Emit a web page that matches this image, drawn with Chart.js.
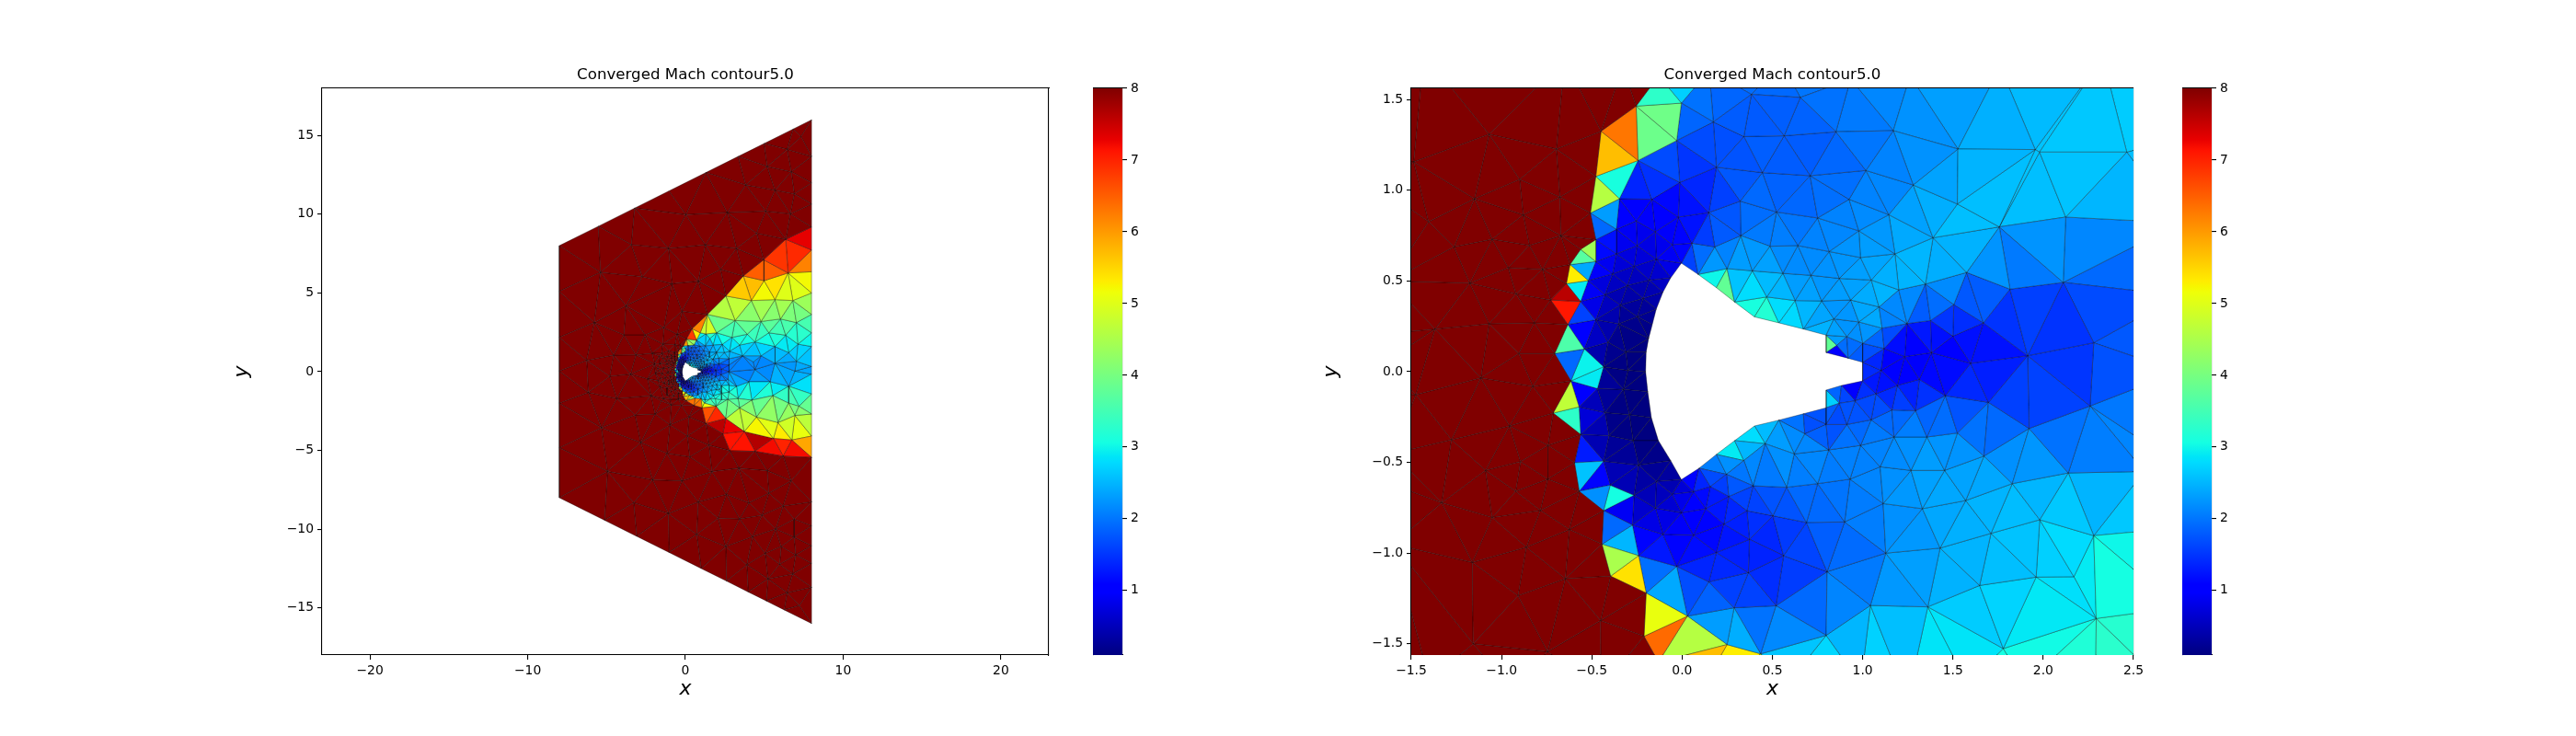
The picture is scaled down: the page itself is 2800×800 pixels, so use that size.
<!DOCTYPE html>
<html>
<head>
<meta charset="utf-8">
<script src="https://cdn.jsdelivr.net/npm/chart.js@4"></script>
<style>
  body { margin: 0; background: #fff; width: 2800px; height: 800px; overflow: hidden; }
  .box { position: absolute; top: 60px; height: 710px; }
</style>
</head>
<body>
<div class="box" style="left:250px;width:900px"><canvas id="fullMesh"></canvas></div>
<div class="box" style="left:1188px;width:60px"><canvas id="fullBar"></canvas></div>
<div class="box" style="left:1434px;width:900px"><canvas id="noseMesh"></canvas></div>
<div class="box" style="left:2372px;width:60px"><canvas id="noseBar"></canvas></div>
<script>
// Chart text
const chartTitle = 'Converged Mach contour5.0';
const xLabel = 'x';
const yLabel = 'y';

// Tick values
const fullXTicks = [-20, -10, 0, 10, 20];
const fullYTicks = [-15, -10, -5, 0, 5, 10, 15];
const noseXTicks = [-1.5, -1, -0.5, 0, 0.5, 1, 1.5, 2, 2.5];
const noseYTicks = [-1.5, -1, -0.5, 0, 0.5, 1, 1.5];
const barTicks = [1, 2, 3, 4, 5, 6, 7, 8];
const machMin = 0.1;
const machMax = 8;

// Mesh nodes ahead of the shock, all at the top of the colour scale
const farX = [
  -1.069,-0.697,-1.486,-0.900,-1.150,-0.677,-0.880,-1.404,-1.052,-0.672,
  -1.263,-0.846,-0.963,-0.773,-1.176,-0.920,-1.069,-0.819,-1.368,-0.905,
  -1.115,-0.827,-1.475,-0.956,-1.277,-0.743,-0.895,-1.089,-0.745,-0.922,
  -1.331,-0.785,-1.052,-0.625,-0.863,-1.162,-0.647,-0.909,-0.452,-1.157,
  -0.745,-0.65,-0.33,-1.62,-1.65,-1.6,-1.6,-1.65,-0.95,-0.45,
  -1.4,7.33,6.45,5.19,6.71,3.83,5.68,6.9,2.66,5.09,
  6.65,0.03,-3.42,-1.08,1.26,3.24,4.51,-5.38,-2.74,-0.85,
  0.81,2.23,-3.77,-0.22,-5.77,-3.9,-2.56,-1.37,-0.52,-4.55,
  -3.14,-2.11,-1.43,-6.26,-3.48,-1.95,-1.75,-1.9,-8,-8,
  -8,-8,-8,-8,-8,8,8,8,8,8,
  8,8,8,8,8,-5.52,-3.22,-1.04,1.3,3.34,
  4.99,6.84,-5.13,-3.09,-1.04,1,2.6,3.98,5.13,6.26,
  -4.8,-2.4,-1.72,-6.16,-4.35,-2.17,-1.53,-0.9,-3.18,-1.92,
  -0.26,-5.33,-0.98,0.22,-2.83,0.13,1.49,-1.18,0.28,-4.94,
  -2.07,-0.22,3.38,5.19,1.68,6.71,2.6,4.02,5.29,-3.28,
  0.81,-1.08,6.2,3.44,4.86,2.07,6.9,5.72,0.71,4.25,
  6.9,2.56,6.07,5.05,7.0,3.89,5.97,5.23,6.81,6.45,7.23
];
const farY = [
  1.308,1.227,1.156,1.060,0.953,0.962,0.864,0.826,0.730,0.750,
  0.688,0.696,0.573,0.564,0.488,0.429,0.264,0.269,0.235,0.100,
  -0.034,-0.081,-0.127,-0.299,-0.375,-0.406,-0.495,-0.544,-0.592,-0.659,
  -0.722,-0.764,-0.803,-0.870,-0.967,-1.051,-1.141,-1.234,-1.372,-1.499,
  -1.543,1.72,1.68,0.5,0.05,-0.45,-0.95,1.0,-1.75,-1.75,
  -1.7,14.93,14.12,13.03,12.7,11.86,11.53,11.3,10.11,10.2,
  10.03,9.97,8.06,7.83,8.06,7.83,8.8,6.31,6.04,5.59,
  5.75,6.5,4.19,3.84,3.12,2.34,2.34,2.80,2.38,1.05,
  1.07,1.17,1.75,0.72,-0.15,0.5,0.2,-0.1,8,5.1,
  2.18,0.04,-2,-4.83,-8,16,13.67,12,10.65,-8.27,
  -9.79,-11.06,-12.17,-13.69,-16,9.24,10.39,11.48,12.65,13.67,
  14.495,15.42,-9.435,-10.455,-11.48,-12.5,-13.3,-13.99,-14.565,-15.13,
  -0.29,-0.45,-0.58,-1.32,-1.71,-1.52,-1.85,-2.1,-2.75,-2.69,
  -2.14,-3.56,-3.37,-2.88,-4.5,-4.09,-4.67,-5.18,-5.41,-6.33,
  -6.87,-6.93,-6.13,-6.29,-6.35,-6.93,-7.79,-8.33,-7.71,-8.33,
  -8.27,-9.01,-8.53,-9.35,-9.11,-9.3,-9.36,-9.99,-10.34,-10.48,
  -10.51,-11.1,-11.1,-11.54,-11.64,-12.27,-12.23,-13.16,-12.85,-14.04,-14.86
];

// Nodes along the shock front, same value as the far field
const shockX = [
  -0.2545,-0.449,-0.478,-0.508,-0.478,-0.562,-0.621,-0.641,-0.728,-0.633,
  -0.706,-0.616,-0.714,-0.562,-0.596,-0.570,-0.435,-0.444,-0.396,-0.199,
  -0.211,-0.131,-0.13,0.07,0.42,1.39,2.56,3.67,4.96,6.36,
  8,0.05,0.55,1.06,1.3,2.37,2.81,4.41,6.2,8
];
const shockY = [
  1.4635,1.325,1.076,0.874,0.728,0.674,0.590,0.485,0.395,0.260,
  0.100,-0.051,-0.228,-0.346,-0.502,-0.659,-0.766,-0.951,-1.127,-1.220,
  -1.458,-1.60,1.63,2.08,2.73,3.64,4.81,6.08,7.11,8.41,
  9.19,-1.85,-2.15,-2.3,-3.31,-3.95,-5.02,-5.06,-5.37,-5.45
];

// Nodes behind the shock
const flowX = [
  -0.004,-0.244,-0.030,0.173,0.384,0.342,0.190,-0.013,0.444,-0.168,
  -0.347,-0.254,-0.364,-0.021,0.148,0.322,-0.148,0.055,0.325,0.486,
  -0.249,-0.364,-0.478,-0.143,-0.055,-0.266,-0.385,-0.520,0.181,0.249,
  0.389,0.469,-0.182,-0.303,-0.427,-0.562,-0.216,-0.342,-0.478,-0.248,
  -0.351,-0.410,-0.312,-0.542,-0.435,-0.300,-0.469,-0.325,-0.571,-0.427,
  -0.292,-0.405,-0.271,-0.435,-0.241,-0.398,-0.266,-0.143,-0.055,-0.148,
  -0.275,-0.004,0.063,0.156,0.131,0.258,0.246,0.342,0.460,0.393,
  0.359,0.232,0.373,0.063,-0.106,-0.241,-0.030,0.190,0.367,0.148,
  0.029,0.288,0.249,0.435,
  0.655,0.565,0.852,1.170,0.709,1.018,1.528,1.956,2.463,1.280,
  1.525,0.925,1.145,0.523,0.751,1.757,2.125,0.979,1.390,0.641,
  0.815,1.179,0.988,1.576,0.558,0.714,0.871,1.048,1.348,1.200,
  1.816,2.111,0.626,0.773,0.934,1.091,1.505,1.376,1.246,1.669,
  0.841,0.979,1.108,0.913,1.001,1.119,1.500,1.233,1.381,1.598,
  1.914,2.280,1.103,0.857,
  0.15,0.55,0.933,1.263,1.762,2.33,
  1.192,1.314,1.458,1.697,1.922,2.260,2.139,0.959,1.074,0.871,
  1.162,1.293,1.047,0.913,0.798,0.680,1.174,1.356,1.525,1.672,
  0.989,0.812,0.621,1.097,1.268,1.454,1.829,0.930,0.751,0.579,
  1.571,1.114,1.331,1.981,2.280,0.689,0.900,1.711,1.429,0.503,
  1.128,0.562,0.803,1.961,1.648,1.043,1.361,0.52,2.294,0.798,
  1.779,
  6.51,8,8,4.99,4.18,5.68,6.81,8,8,3.15,
  4.8,6.03,7.04,8,1.98,3.92,5.29,6.36,8,1.3,
  2.95,4.41,5.68,7.14,1.98,3.44,4.8,6.55,8,3.63,
  2.76,4.31,5.68,7.04,0.94,0.7,1.55,2.8,
  2.75,2.75,2.76,2.7,2.75,2.7,
  3.44,4.51,5.87,6.94,8,2.17,3.34,4.21,5.54,6.55,
  7.2,8,2.56,3.24,4.02,5.38,6.55,8,4.41,6.94,
  2.56,3.73,5.58,6.75,8,1.95,1.2,0.6,0.99,1.25,
  1.58,1.9,2.29
];
const flowY = [
  1.480,1.164,1.274,1.376,1.528,1.296,1.127,1.043,1.097,0.950,
  0.953,0.831,0.784,0.852,0.877,0.940,0.771,0.708,0.750,0.691,
  0.695,0.649,0.607,0.620,0.700,0.581,0.539,0.502,0.688,0.568,
  0.556,0.412,0.505,0.475,0.424,0.387,0.404,0.368,0.286,0.303,
  0.264,0.162,0.108,0.125,0.027,0.007,-0.093,-0.098,-0.194,-0.225,
  -0.237,-0.352,-0.380,-0.493,-0.515,-0.625,-0.681,-0.605,-0.676,-0.752,
  -0.845,-0.777,-0.662,-0.634,-0.755,-0.688,-0.566,-0.490,-0.397,-0.629,
  -0.766,-0.840,-0.924,-0.901,-0.896,-1.014,-1.073,-0.997,-1.107,-1.158,
  -1.347,-1.301,-1.504,-1.555,
  1.511,1.300,1.322,1.328,1.080,1.109,1.227,1.224,1.210,1.029,
  0.924,0.950,0.865,0.880,0.847,0.798,0.852,0.776,0.738,0.695,
  0.662,0.649,0.629,0.547,0.542,0.531,0.514,0.505,0.483,0.451,
  0.455,0.492,0.392,0.390,0.395,0.357,0.370,0.282,0.265,0.269,
  0.291,0.274,0.240,0.193,0.156,0.128,0.196,0.083,0.105,0.046,
  0.088,0.159,0.007,0.145,
  1.66,1.7,1.612,1.63,1.68,1.73,
  -0.076,-0.042,-0.132,-0.169,-0.313,-0.189,-0.558,-0.161,-0.122,-0.174,
  -0.211,-0.215,-0.265,-0.291,-0.291,-0.343,-0.360,-0.360,-0.338,-0.465,
  -0.406,-0.431,-0.453,-0.524,-0.544,-0.544,-0.617,-0.592,-0.617,-0.637,
  -0.710,-0.727,-0.755,-0.816,-0.904,-0.831,-0.828,-0.891,-0.972,-0.794,
  -1.000,-1.014,-1.102,-1.132,-1.178,-1.288,-1.296,-1.29,-1.360,-1.453,
  -1.526,
  6.27,7.73,6.35,5.78,4.52,4.58,4.52,5,3.64,3.25,
  3.19,3.35,3.12,2.47,2.47,2.38,2.47,2.32,1.6,2.4,
  2.18,1.89,1.6,1.75,1.21,1.69,1.01,1.21,0.33,1.01,
  0.82,0.62,0.53,0.66,2.47,2.0,2.1,1.3,
  0.42,0.0,-0.86,-0.48,-1.3,-1.75,
  -2.3,-2.88,-3.23,-2.78,-2.69,-1.13,-1.71,-1.81,-1.52,-2.0,
  -2.2,-1.42,-0.55,-0.93,-0.64,-0.64,-0.93,-0.16,0.14,0.04,
  -2.98,-3.8,-4.24,-4.34,-4.09,-2.2,-2.0,-1.7,-1.72,-1.8,
  -1.72,-1.72,-1.78
];
const flowMach = [
  2.1,2.0,1.7,1.8,1.8,1.8,1.5,1.3,1.9,1.1,
  1.0,0.9,1.0,1.0,1.35,1.9,0.85,1.3,2.0,2.2,
  0.8,0.8,1.2,0.7,1.0,0.65,0.65,1.0,2.0,2.3,
  2.6,2.8,0.5,0.45,0.55,1.2,0.35,0.35,0.7,0.2,
  0.25,0.3,0.1,0.7,0.2,0.1,0.5,0.1,0.8,0.2,
  0.1,0.2,0.1,0.5,0.2,0.7,0.5,0.35,0.6,0.6,
  0.8,0.8,1.1,1.2,1.15,1.5,2.0,2.2,2.4,1.8,
  1.5,1.15,1.35,1.0,1.0,1.5,1.3,1.25,1.4,1.55,
  2.2,1.8,3.0,2.5,
  1.9,1.75,1.9,2.1,1.75,2.0,2.35,2.6,2.7,2.2,
  2.5,2.1,2.2,1.9,2.0,2.6,2.5,2.2,2.6,2.1,
  2.2,2.4,2.3,2.2,2.2,2.2,2.25,2.4,2.5,2.55,
  1.9,1.6,2.5,2.3,2.35,2.5,1.8,1.5,1.4,1.3,
  2.1,2.3,2.4,2.3,2.0,1.2,1.2,0.95,0.9,1.1,
  1.25,1.6,1.05,2.0,
  2.0,2.0,2.1,2.2,2.4,2.6,
  1.1,1.0,1.5,1.6,1.9,1.65,2.35,1.6,1.45,1.9,
  1.7,1.9,1.9,1.7,1.4,2.0,2.1,2.2,2.1,2.2,
  2.1,2.1,2.3,2.1,2.3,2.4,2.5,2.05,2.0,1.9,
  2.45,2.2,2.3,2.65,2.9,1.8,1.9,2.5,2.4,1.5,
  2.1,1.3,1.75,2.65,2.55,2.25,2.45,1.6,3.0,2.35,
  3.0,
  5.6,6.2,5.3,5.6,4.7,4.7,4.7,4.7,3.7,4.0,
  3.9,3.9,3.6,3.3,3.5,3.5,3.4,3.2,2.8,3.2,
  3.1,2.9,2.9,2.9,2.6,2.8,2.4,2.6,2.5,2.5,
  2.3,2.1,2.1,2.5,3.0,2.7,3.0,2.7,
  1.8,1.9,2.8,2.5,3.3,3.4,
  4.2,4.6,4.8,4.3,4.2,2.8,3.5,3.6,3.4,3.8,
  4.0,3.3,2.2,2.7,2.5,2.5,2.8,2.4,1.9,2.2,
  4.4,5.4,5.7,5.5,5.5,3.8,3.7,3.0,2.9,3.0,
  3.1,3.1,3.4
];

// Nodes on the body outline, in order around it
const wallX = [
  1.0,0.92,0.798,0.798,0.672,0.536,0.401,0.291,0.19,0.089,-0.004,
  -0.063,-0.106,-0.143,-0.165,-0.185,-0.199,-0.202,
  -0.19,-0.17,-0.131,-0.063,-0.004,
  0.094,0.19,0.291,0.401,0.536,0.672,0.798,0.798,0.883,1.0
];
const wallY = [
  0.052,0.074,0.105,0.201,0.235,0.269,0.302,0.384,0.463,0.536,0.598,
  0.517,0.438,0.345,0.26,0.184,0.108,0,
  -0.11,-0.254,-0.38,-0.49,-0.595,
  -0.532,-0.456,-0.38,-0.299,-0.267,-0.232,-0.199,-0.101,-0.076,-0.051
];
const wallMach = [
  1.9,1.5,2.8,2.6,2.7,3.1,3.2,3.0,3.2,2.5,1.0,
  0.7,0.5,0.3,0.2,0.1,0.1,0.1,
  0.1,0.1,0.1,0.2,0.4,
  1.8,2.4,2.9,3.0,2.2,1.7,2.1,2.3,1.4,1.3
];

// Single cells whose colour was read directly, mostly along the shock
const cellX = [
  -0.14,0.03,-0.317,-0.393,-0.356,-0.444,-0.407,-0.452,-0.401,-0.44,
  -0.506,-0.554,-0.54,-0.596,-0.574,-0.643,-0.641,-0.559,-0.55,-0.626,
  -0.62,-0.633,-0.554,-0.616,-0.52,-0.464,-0.532,-0.469,-0.537,-0.469,
  -0.469,-0.368,-0.385,-0.322,-0.359,-0.275,-0.156,-0.067,-0.126,-0.06,
  0.08,0.19,0.215,0.317,
  0.244,0.176,0.384,0.46,0.308,0.818,0.837,0.874,0.824,0.945,0.384,0.275,
  7.47,6.94,7.53,5.97,5.48,4.55,4.31,3.53,4.96,5.73,
  3.3,2.4,2.17,0.91,0.56,0.22,0.22,
  1.63,2.07,2.89,4.57,5.38,6.16,6.98,7.58,0.61,0.22
];
const cellY = [
  1.51,1.53,1.316,1.19,1.066,0.97,0.872,0.796,0.716,0.66,
  0.67,0.624,0.564,0.527,0.463,0.421,0.345,0.311,0.226,0.159,
  0.04,-0.161,-0.11,-0.257,-0.254,-0.308,-0.448,-0.397,-0.553,-0.592,
  -0.684,-0.744,-0.853,-0.938,-1.031,-1.124,-1.098,-1.217,-1.344,-1.453,
  -1.487,-1.386,-1.546,-1.538,
  0.471,0.522,0.367,0.336,0.502,0.15,0.117,0.103,-0.16,-0.093,-0.358,-0.44,
  8.41,7.48,6.8,7.24,6.37,6.33,5.5,5.1,4.97,5.53,
  4.19,3.9,3.12,2.9,2.38,2.34,1.95,
  -2.88,-3.41,-3.56,-4.38,-4.89,-4.63,-5.06,-4.63,-1.95,-1.71
];
const cellMach = [
  3.3,2.7,6.3,5.7,3.1,4.6,2.3,1.9,1.2,1.15,
  4.4,3.7,2.4,5.3,2.9,7.6,7.1,1.6,1.0,3.6,
  1.9,4.7,1.0,3.3,0.7,0.45,1.3,0.45,2.6,1.1,
  2.2,0.9,1.9,2.5,4.5,5.4,1.95,2.4,5.1,6.4,
  4.6,2.3,5.7,3.9,
  3.8,3.0,3.1,3.2,2.6,3.8,2.9,1.0,2.7,1.0,2.8,2.9,
  7.3,6.95,6.2,6.85,6.5,6.5,5.7,5.6,5.2,5.4,
  4.7,4.6,3.9,6.2,5.3,6.8,4.5,
  6.95,7.6,7.3,7.65,7.2,7.0,7.2,5.9,6.2,5.3
];

// matplotlib's jet colormap breakpoints
const jetR = [[0, 0], [0.35, 0], [0.66, 1], [0.89, 1], [1, 0.5]];
const jetG = [[0, 0], [0.125, 0], [0.375, 1], [0.64, 1], [0.91, 0], [1, 0]];
const jetB = [[0, 0.5], [0.11, 1], [0.34, 1], [0.65, 0], [1, 0]];

function channel(stops, t) {
  for (let i = 1; i < stops.length; i++) {
    if (t <= stops[i][0]) {
      const f = (t - stops[i - 1][0]) / (stops[i][0] - stops[i - 1][0]);
      return stops[i - 1][1] + f * (stops[i][1] - stops[i - 1][1]);
    }
  }
  return stops[stops.length - 1][1];
}

function jet(mach) {
  const t = Math.min(1, Math.max(0, (mach - machMin) / (machMax - machMin)));
  const r = Math.round(channel(jetR, t) * 255);
  const g = Math.round(channel(jetG, t) * 255);
  const b = Math.round(channel(jetB, t) * 255);
  return `rgb(${r},${g},${b})`;
}

// Bowyer-Watson, connects the nodes the way the mesh generator did
function delaunay(xs, ys) {
  const n = xs.length;
  const px = [...xs, -1e5, 1e5, 0];
  const py = [...ys, -1e5, -1e5, 1e5];
  const circle = (t) => {
    const [a, b, c] = t;
    const bx = px[b] - px[a], by = py[b] - py[a];
    const cx = px[c] - px[a], cy = py[c] - py[a];
    const d = 2 * (bx * cy - by * cx);
    if (Math.abs(d) < 1e-12) return { x: 0, y: 0, r: Infinity };
    const ux = (cy * (bx * bx + by * by) - by * (cx * cx + cy * cy)) / d;
    const uy = (bx * (cx * cx + cy * cy) - cx * (bx * bx + by * by)) / d;
    return { x: px[a] + ux, y: py[a] + uy, r: ux * ux + uy * uy };
  };
  let tris = [{ v: [n, n + 1, n + 2], c: circle([n, n + 1, n + 2]) }];
  for (let i = 0; i < n; i++) {
    const keep = [];
    const edges = new Map();
    for (const t of tris) {
      const dx = px[i] - t.c.x, dy = py[i] - t.c.y;
      if (dx * dx + dy * dy < t.c.r) {
        const [a, b, c] = t.v;
        for (const [p, q] of [[a, b], [b, c], [c, a]]) {
          const key = p < q ? p + ',' + q : q + ',' + p;
          edges.set(key, edges.has(key) ? null : [p, q]);
        }
      } else {
        keep.push(t);
      }
    }
    for (const e of edges.values()) {
      if (e) keep.push({ v: [e[0], e[1], i], c: circle([e[0], e[1], i]) });
    }
    tris = keep;
  }
  return tris.map(t => t.v).filter(v => v.every(k => k < n));
}

function insideBody(x, y) {
  let inside = false;
  for (let i = 0, j = wallX.length - 1; i < wallX.length; j = i++) {
    if ((wallY[i] > y) !== (wallY[j] > y) &&
        x < (wallX[j] - wallX[i]) * (y - wallY[i]) / (wallY[j] - wallY[i]) + wallX[i]) {
      inside = !inside;
    }
  }
  return inside;
}

const nodeX = [...farX, ...shockX, ...flowX, ...wallX];
const nodeY = [...farY, ...shockY, ...flowY, ...wallY];
const nodeMach = [...farX.map(() => machMax), ...shockX.map(() => machMax), ...flowMach, ...wallMach];

const cells = delaunay(nodeX, nodeY).filter(([a, b, c]) => {
  const area = Math.abs((nodeX[b] - nodeX[a]) * (nodeY[c] - nodeY[a]) - (nodeX[c] - nodeX[a]) * (nodeY[b] - nodeY[a]));
  const mx = (nodeX[a] + nodeX[b] + nodeX[c]) / 3;
  const my = (nodeY[a] + nodeY[b] + nodeY[c]) / 3;
  return area > 1e-7 && !insideBody(mx, my);
}).map(v => ({ v, mach: (nodeMach[v[0]] + nodeMach[v[1]] + nodeMach[v[2]]) / 3 }));

// Put the colours read per cell on the triangle that holds each point
cellX.forEach((x, i) => {
  const y = cellY[i];
  for (const cell of cells) {
    const [a, b, c] = cell.v;
    const d1 = (x - nodeX[b]) * (nodeY[a] - nodeY[b]) - (nodeX[a] - nodeX[b]) * (y - nodeY[b]);
    const d2 = (x - nodeX[c]) * (nodeY[b] - nodeY[c]) - (nodeX[b] - nodeX[c]) * (y - nodeY[c]);
    const d3 = (x - nodeX[a]) * (nodeY[c] - nodeY[a]) - (nodeX[c] - nodeX[a]) * (y - nodeY[a]);
    if ((d1 >= 0 && d2 >= 0 && d3 >= 0) || (d1 <= 0 && d2 <= 0 && d3 <= 0)) {
      cell.mach = cellMach[i];
      break;
    }
  }
});

const fontFamily = "'DejaVu Sans'";
const tickFont = { family: fontFamily, size: 13.9 };
const minus = (s) => s.replace('-', '\u2212');

function makeAxis(min, max, ticks, decimals, position, label, pad, size) {
  return {
    type: 'linear',
    position,
    min,
    max,
    afterBuildTicks: (axis) => { axis.ticks = ticks.map(value => ({ value })); },
    afterFit: (axis) => {
      if (axis.isHorizontal()) axis.height = size; else axis.width = size;
    },
    grid: { drawOnChartArea: false, drawTicks: true, tickLength: 5, color: '#000', lineWidth: 1.1 },
    border: { display: true, color: '#000', width: 1.1 },
    ticks: {
      color: '#000',
      font: tickFont,
      padding: 4,
      maxRotation: 0,
      autoSkip: false,
      callback: (v) => minus(v.toFixed(decimals)),
    },
    title: {
      display: true,
      text: label,
      color: '#000',
      font: { family: fontFamily, size: 22, style: 'italic' },
      padding: { top: 0, bottom: pad },
    },
  };
}

// Axes with no ticks, they only close the frame and hold the title
function makeFrameAxis(min, max, position, size, title) {
  return {
    type: 'linear',
    position,
    min,
    max,
    afterBuildTicks: (axis) => { axis.ticks = []; },
    afterFit: (axis) => {
      if (axis.isHorizontal()) axis.height = size; else axis.width = size;
    },
    grid: { display: false },
    border: { display: true, color: '#000', width: 1.1 },
    ticks: { display: false },
    title: title ? {
      display: true,
      text: title,
      color: '#000',
      font: { family: fontFamily, size: 16.67, weight: 'normal' },
      padding: { top: 12, bottom: 0 },
    } : { display: false },
  };
}

function makeMeshChart(id, xMin, xMax, yMin, yMax, xTicks, yTicks, decimals) {
  const datasets = cells.map(({ v, mach }) => ({
    data: [...v, v[0]].map(k => ({ x: nodeX[k], y: nodeY[k] })),
    showLine: true,
    fill: 'shape',
    backgroundColor: jet(mach),
    borderColor: 'rgba(0,0,0,0.75)',
    borderWidth: 0.45,
    pointRadius: 0,
    tension: 0,
  }));
  new Chart(document.getElementById(id), {
    type: 'scatter',
    data: { datasets },
    options: {
      animation: false,
      responsive: true,
      maintainAspectRatio: false,
      events: [],
      layout: { padding: { right: 10 } },
      plugins: { legend: { display: false }, tooltip: { enabled: false } },
      scales: {
        x: makeAxis(xMin, xMax, xTicks, decimals, 'bottom', xLabel, 8, 58),
        y: makeAxis(yMin, yMax, yTicks, decimals, 'left', yLabel, 30, 100),
        top: makeFrameAxis(xMin, xMax, 'top', 36, chartTitle),
        right: makeFrameAxis(yMin, yMax, 'right', 0),
      },
    },
  });
}

function makeColorBar(id) {
  const stops = [...new Set([...jetR, ...jetG, ...jetB].map(s => s[0]))].sort((a, b) => a - b);
  new Chart(document.getElementById(id), {
    type: 'bar',
    data: {
      labels: ['Mach'],
      datasets: [{
        data: [[machMin, machMax]],
        barPercentage: 1,
        categoryPercentage: 1,
        backgroundColor: (ctx) => {
          const area = ctx.chart.chartArea;
          if (!area) return 'transparent';
          const g = ctx.chart.ctx.createLinearGradient(0, area.bottom, 0, area.top);
          stops.forEach(t => g.addColorStop(t, jet(machMin + t * (machMax - machMin))));
          return g;
        },
      }],
    },
    options: {
      animation: false,
      responsive: true,
      maintainAspectRatio: false,
      events: [],
      layout: { padding: { top: 36, bottom: 58 } },
      plugins: { legend: { display: false }, tooltip: { enabled: false } },
      scales: {
        x: {
          position: 'bottom',
          afterFit: (axis) => { axis.height = 0; },
          grid: { display: false },
          ticks: { display: false },
          border: { display: true, color: '#000', width: 1.1 },
        },
        y: {
          type: 'linear',
          position: 'right',
          min: machMin,
          max: machMax,
          afterBuildTicks: (axis) => { axis.ticks = barTicks.map(value => ({ value })); },
          afterFit: (axis) => { axis.width = 28; },
          grid: { drawOnChartArea: false, drawTicks: true, tickLength: 5, color: '#000', lineWidth: 1.1 },
          border: { display: true, color: '#000', width: 1.1 },
          ticks: { color: '#000', font: tickFont, padding: 4, callback: (v) => String(v) },
        },
        left: {
          type: 'linear',
          position: 'left',
          min: machMin,
          max: machMax,
          afterBuildTicks: (axis) => { axis.ticks = []; },
          afterFit: (axis) => { axis.width = 0; },
          grid: { display: false },
          ticks: { display: false },
          border: { display: true, color: '#000', width: 1.1 },
        },
        top: {
          position: 'top',
          afterFit: (axis) => { axis.height = 0; },
          grid: { display: false },
          ticks: { display: false },
          border: { display: true, color: '#000', width: 1.1 },
        },
      },
    },
  });
}

makeMeshChart('fullMesh', -23.04, 23.04, -18, 18, fullXTicks, fullYTicks, 0);
makeColorBar('fullBar');
makeMeshChart('noseMesh', -1.5, 2.5, -1.5615, 1.5615, noseXTicks, noseYTicks, 1);
makeColorBar('noseBar');
</script>
</body>
</html>
